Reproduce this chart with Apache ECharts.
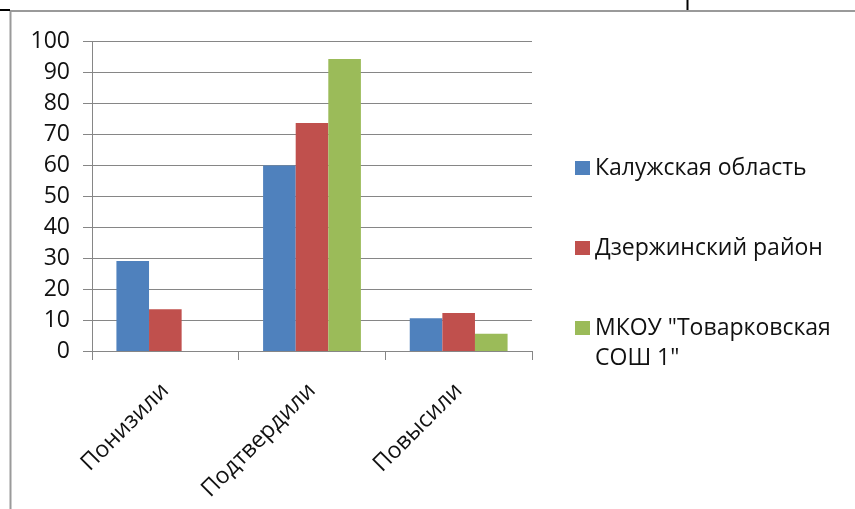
<!DOCTYPE html>
<html><head><meta charset="utf-8">
<script src="https://cdn.jsdelivr.net/npm/echarts@6/dist/echarts.min.js"></script>
<style>html,body{margin:0;padding:0;background:#fff}#c{width:855px;height:509px}</style>
</head><body><div id="c"></div>
<script>
const categories = ['Понизили', 'Подтвердили', 'Повысили'];
const seriesNames = ['Калужская область', 'Дзержинский район', 'МКОУ "Товарковская\nСОШ 1"'];
const kaluga = [29.1, 60.0, 10.6];
const dzerzh = [13.5, 73.7, 12.3];
const school = [null, 94.4, 5.6];
const yTicks = [0, 10, 20, 30, 40, 50, 60, 70, 80, 90, 100];

const colors = ['#4F81BD', '#C0504D', '#9BBB59'];
const FONT = '"Open Sans", sans-serif';
const legendBase = {
  orient: 'vertical', left: 575, padding: 0, itemWidth: 15, itemHeight: 14, icon: 'rect',
  textStyle: {fontSize: 23, color: '#111', fontFamily: FONT, lineHeight: 30}
};
const chart = echarts.init(document.getElementById('c'), null, {renderer: 'canvas'});
chart.setOption({
  animation: false,
  color: colors,
  textStyle: {fontFamily: FONT, color: '#000'},
  grid: {left: 92, right: 323, top: 41.7, bottom: 158, containLabel: false},
  xAxis: {
    type: 'category', data: categories,
    axisLine: {lineStyle: {color: '#868686', width: 1}},
    axisTick: {show: true, length: 9, lineStyle: {color: '#868686'}},
    axisLabel: {rotate: 45, fontSize: 23, color: '#111', fontFamily: FONT, margin: 36}
  },
  yAxis: {
    type: 'value', min: yTicks[0], max: yTicks[yTicks.length - 1], interval: 10,
    axisLine: {show: true, lineStyle: {color: '#868686', width: 1}},
    axisTick: {show: true, length: 9, lineStyle: {color: '#868686'}},
    splitLine: {lineStyle: {color: '#868686', width: 1}},
    axisLabel: {fontSize: 23, color: '#111', fontFamily: FONT, margin: 22}
  },
  legend: [
    Object.assign({}, legendBase, {top: 153, data: [seriesNames[0]]}),
    Object.assign({}, legendBase, {top: 233, data: [seriesNames[1]]}),
    Object.assign({}, legendBase, {top: 283, data: [seriesNames[2]],
      formatter: function (n) { return ' \n' + n; }})
  ],
  graphic: [
    {type: 'line', shape: {x1: 10, y1: 11, x2: 855, y2: 11}, style: {stroke: '#9a9a9a', lineWidth: 2}},
    {type: 'line', shape: {x1: 10.5, y1: 10, x2: 10.5, y2: 509}, style: {stroke: '#9a9a9a', lineWidth: 2}},
    {type: 'line', shape: {x1: 0, y1: 10, x2: 10, y2: 10}, style: {stroke: '#000', lineWidth: 2}},
    {type: 'line', shape: {x1: 687.5, y1: 0, x2: 687.5, y2: 10}, style: {stroke: '#000', lineWidth: 2}}
  ],
  series: [
    {name: seriesNames[0], type: 'bar', data: kaluga, barGap: '0%', barCategoryGap: '33.3%'},
    {name: seriesNames[1], type: 'bar', data: dzerzh, barGap: '0%', barCategoryGap: '33.3%'},
    {name: seriesNames[2], type: 'bar', data: school, barGap: '0%', barCategoryGap: '33.3%'}
  ]
});
</script></body></html>
